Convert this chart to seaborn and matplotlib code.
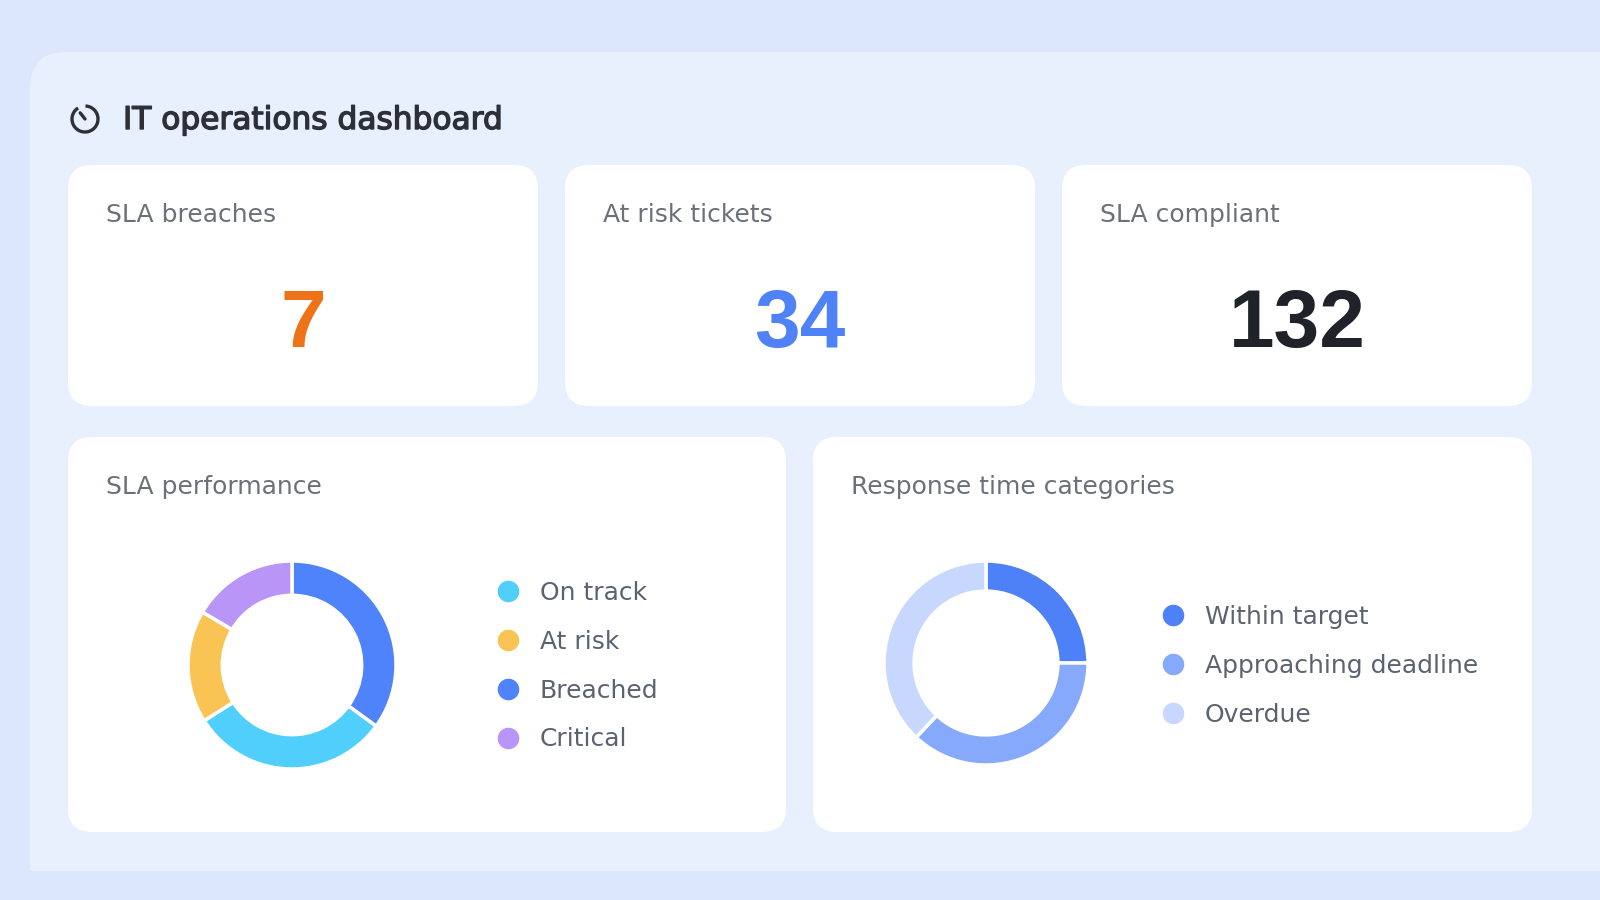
import matplotlib
matplotlib.use("Agg")
import matplotlib.pyplot as plt
import seaborn as sns
import numpy as np
from matplotlib.patches import FancyBboxPatch, Rectangle, Arc
from matplotlib.lines import Line2D
import matplotlib.patheffects as pe

# ---------------- data ----------------
title = "IT operations dashboard"
kpi_labels = ["SLA breaches", "At risk tickets", "SLA compliant"]
kpi_values = [7, 34, 132]
kpi_colors = ["#ee7316", "#4f82f7", "#1f2329"]

sla_title = "SLA performance"
sla_labels = ["On track", "At risk", "Breached", "Critical"]
sla_values = [31, 17.5, 35, 16.5]
sla_colors = ["#50cffc", "#f9c453", "#4f83fb", "#b895f7"]
sla_draw_order = ["Breached", "On track", "At risk", "Critical"]

resp_title = "Response time categories"
resp_labels = ["Within target", "Approaching deadline", "Overdue"]
resp_values = [25, 37, 38]
resp_colors = ["#4e80f8", "#86a9fc", "#c7d7fe"]

# ---------------- style ----------------
sns.set_theme(style="white")
plt.rcParams["font.family"] = ["DejaVu Sans"]

W, H = 1600, 900
fig = plt.figure(figsize=(16, 9), dpi=100)
fig.patch.set_facecolor("#dce6fd")

bg = fig.add_axes([0, 0, 1, 1])
bg.set_xlim(0, W)
bg.set_ylim(H, 0)
bg.axis("off")
bg.set_facecolor("none")

PANEL = "#e8effd"
# outer panel
bg.add_patch(FancyBboxPatch((30, 52), 1700, 819, boxstyle="round,pad=0,rounding_size=36",
                            fc=PANEL, ec="none", zorder=1))
bg.add_patch(Rectangle((30, 500), 200, 371, fc=PANEL, ec="none", zorder=1))


def card(x0, y0, x1, y1):
    bg.add_patch(FancyBboxPatch((x0, y0), x1 - x0, y1 - y0,
                                boxstyle="round,pad=0,rounding_size=24",
                                fc="white", ec="none", zorder=2))


# title + icon
cx, cy, r = 85, 119, 13
bg.add_patch(Arc((cx, cy), 2 * r, 2 * r, theta1=-88, theta2=238, lw=2.4,
                 color="#2d3038", zorder=3))
ang = np.deg2rad(128)
bg.plot([cx, cx + 0.6 * r * np.cos(ang)], [cy, cy - 0.6 * r * np.sin(ang)],
        color="#2d3038", lw=2.4, solid_capstyle="round", zorder=3)
bg.text(123, 129, title, fontsize=22.5, color="#2d3038", va="baseline", ha="left",
        zorder=3, path_effects=[pe.withStroke(linewidth=1.0, foreground="#2d3038")])

# KPI cards
card_x = [(68, 538), (565, 1035), (1062, 1532)]
for (x0, x1), lab, val, col in zip(card_x, kpi_labels, kpi_values, kpi_colors):
    card(x0, 165, x1, 406)
    bg.text(x0 + 38, 222, lab, fontsize=18, color="#6b7079", va="baseline", zorder=3)
    bg.text((x0 + x1) / 2, 347, str(val), fontsize=59, color=col, va="baseline",
            ha="center", family="Liberation Sans", fontweight="bold", zorder=3)

# bottom cards
card(68, 437, 786, 832)
card(813, 437, 1532, 832)
bg.text(106, 494, sla_title, fontsize=18, color="#6b7079", va="baseline", zorder=3)
bg.text(851, 494, resp_title, fontsize=18, color="#6b7079", va="baseline", zorder=3)


def donut_axes(cx, cy, R):
    return fig.add_axes([(cx - R) / W, 1 - (cy + R) / H, 2 * R / W, 2 * R / H])


# SLA donut
ax1 = donut_axes(292, 665, 104)
sla_map = dict(zip(sla_labels, zip(sla_values, sla_colors)))
ax1.pie([sla_map[k][0] for k in sla_draw_order],
        colors=[sla_map[k][1] for k in sla_draw_order],
        startangle=90, counterclock=False, radius=1,
        wedgeprops=dict(width=0.33, edgecolor="white", linewidth=2.5))
ax1.set_xlim(-1, 1); ax1.set_ylim(-1, 1); ax1.axis("off")

# Response donut
ax2 = donut_axes(986, 663, 102)
ax2.pie(resp_values, colors=resp_colors, startangle=90, counterclock=False, radius=1,
        wedgeprops=dict(width=0.295, edgecolor="white", linewidth=2.5))
ax2.set_xlim(-1, 1); ax2.set_ylim(-1, 1); ax2.axis("off")


def legend(ax, labels, colors, x0, ytop):
    handles = [Line2D([], [], marker="o", linestyle="", markersize=14.5,
                      markerfacecolor=c, markeredgecolor=c) for c in colors]
    leg = ax.legend(handles, labels, loc="upper left",
                    bbox_to_anchor=(x0 / W, 1 - ytop / H), bbox_transform=fig.transFigure,
                    frameon=False, fontsize=18, handlelength=0.8, handletextpad=0.88,
                    labelspacing=0.99, borderpad=0, borderaxespad=0)
    for t in leg.get_texts():
        t.set_color("#5c6370")
    return leg


legend(ax1, sla_labels, sla_colors, 498, 581)
legend(ax2, resp_labels, resp_colors, 1163, 605)

fig.savefig("out.png", dpi=100, facecolor=fig.get_facecolor())
